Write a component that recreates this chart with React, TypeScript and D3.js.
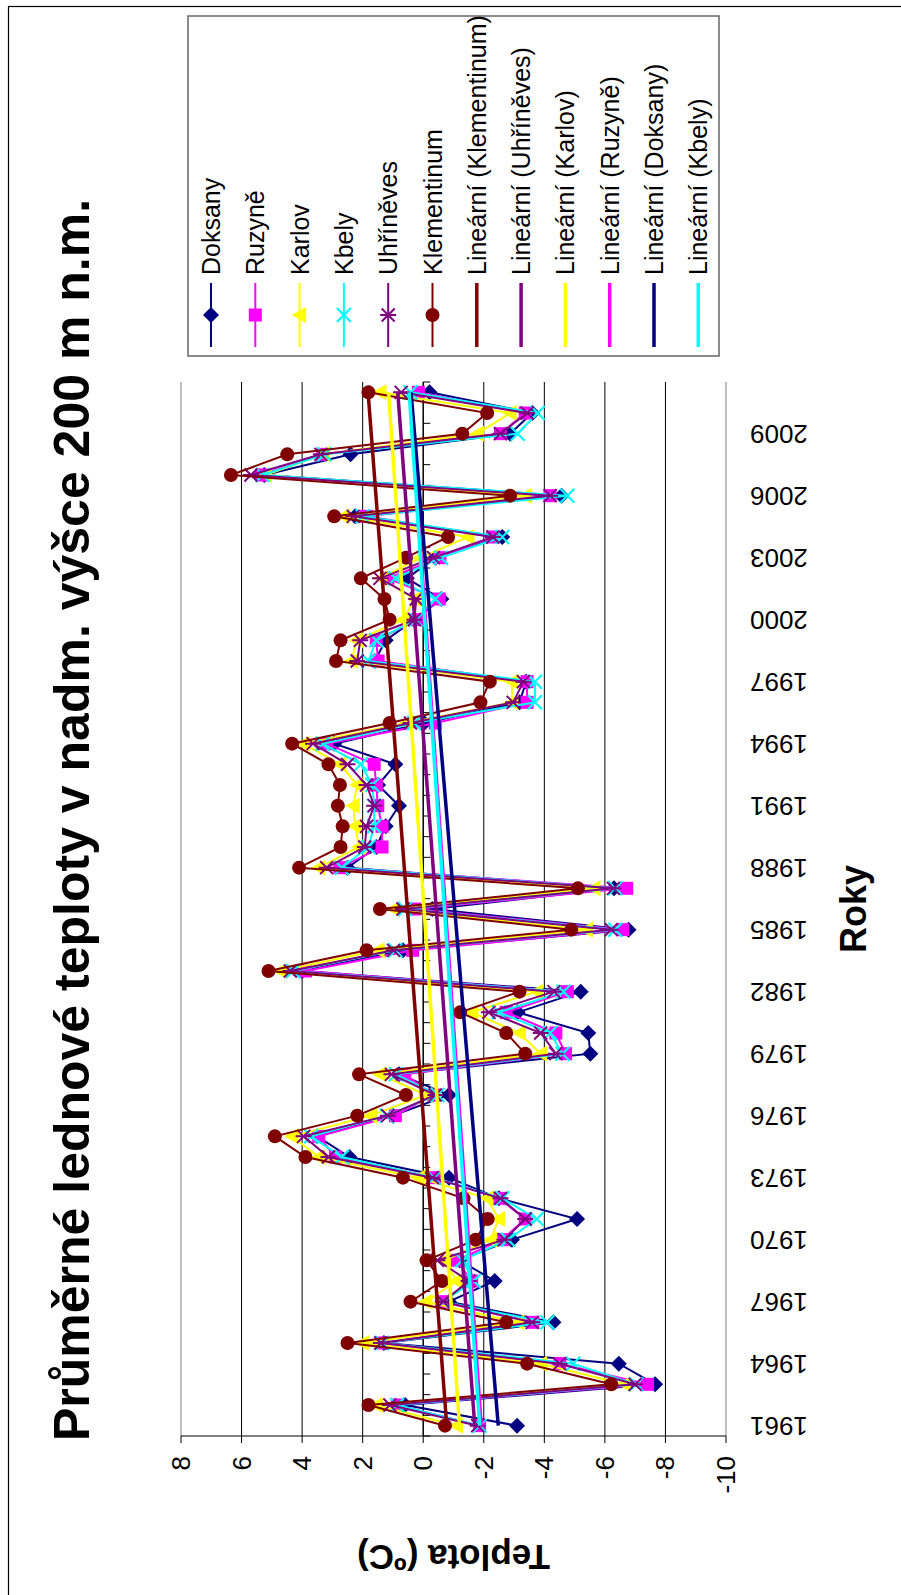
import React from "react";
import * as d3 from "d3";

// January mean temperatures (°C) at stations around 200 m a.s.l., 1961–2011
const years = [
  1961, 1962, 1963, 1964, 1965, 1966, 1967, 1968, 1969, 1970,
  1971, 1972, 1973, 1974, 1975, 1976, 1977, 1978, 1979, 1980,
  1981, 1982, 1983, 1984, 1985, 1986, 1987, 1988, 1989, 1990,
  1991, 1992, 1993, 1994, 1995, 1996, 1997, 1998, 1999, 2000,
  2001, 2002, 2003, 2004, 2005, 2006, 2007, 2008, 2009, 2010, 2011,
];

const doksany = [
  -3.1, 0.6, -7.66, -6.46, 1.3, -4.3, -0.85, -2.36, -1.2, -2.93,
  -5.08, -2.5, -0.85, 2.44, 3.5, 1.0, -0.85, 0.8, -5.52, -5.45,
  -3.12, -5.2, 4.0, 0.67, -6.78, -0.3, -6.3, 2.5, 1.55, 1.24,
  0.8, 1.49, 0.92, 2.94, -0.03, -3.18, -3.4, 1.6, 1.24, 0.29,
  -0.6, 0.54, -0.4, -2.61, 2.25, -4.57, 5.25, 2.4, -2.87, -3.6, -0.21,
];

const ruzyne = [
  -1.86, 0.86, -7.41, -4.51, 1.36, -3.62, -0.6, -1.6, -1.1, -2.6,
  -3.37, -2.5, -0.4, 2.9, 3.45, 0.92, -0.34, 0.61, -4.7, -4.38,
  -2.74, -4.76, 3.89, 0.35, -6.59, 0.29, -6.72, 2.75, 1.36, 1.36,
  1.5, 1.55, 1.62, 3.19, -0.4, -3.43, -3.43, 1.49, 1.55, 0.2,
  -0.53, 1.17, -0.55, -2.3, 1.87, -4.19, 5.34, 3.32, -2.55, -3.37, 0.16,
];

const karlov = [
  -1.1, 1.55, -6.65, -3.88, 2.0, -3.12, -0.09, -1.1, -0.7, -2.23,
  -2.49, -2.11, 0.16, 3.45, 4.33, 1.74, -0.09, 1.43, -3.88, -3.18,
  -1.6, -3.75, 4.71, 1.49, -5.39, 0.98, -5.64, 3.45, 2.12, 2.25,
  2.31, 2.18, 2.75, 3.95, 0.54, -2.93, -2.93, 2.37, 2.2, 0.67,
  0.29, 1.4, 0.1, -1.48, 2.63, -3.37, 5.21, 3.3, -1.79, -2.87, 1.43,
];

const kbely = [
  -1.86, 0.86, -7.03, -4.95, 1.36, -4.1, -0.66, -1.67, -1.29, -2.8,
  -3.75, -2.61, -0.35, 2.69, 3.7, 1.2, -0.47, 0.9, -4.6, -4.19,
  -2.5, -4.63, 4.3, 0.92, -6.34, 0.6, -6.34, 2.69, 1.81, 1.62,
  1.62, 1.68, 2.06, 3.32, 0.3, -3.69, -3.69, 1.81, 1.55, 0.25,
  -0.4, 0.92, -0.59, -2.61, 2.0, -4.76, 5.3, 3.26, -3.12, -3.78, 0.42,
];

const uhrineves = [
  -1.8, 1.1, -7.0, -4.5, 1.4, -3.6, -0.66, -1.5, -0.47, -2.68,
  -3.37, -2.55, -0.3, 3.13, 3.95, 1.17, -0.4, 1.05, -4.38, -3.88,
  -2.17, -4.32, 4.39, 0.98, -6.21, 0.67, -6.28, 3.19, 1.93, 1.87,
  1.62, 1.87, 2.5, 3.64, 0.42, -2.97, -3.31, 2.18, 2.08, 0.29,
  0.23, 1.43, -0.34, -2.3, 2.31, -4.19, 5.69, 3.38, -2.55, -3.43, 0.73,
];

const klementinum = [
  -0.72, 1.81, -6.21, -3.43, 2.5, -2.74, 0.42, -0.62, -0.11, -1.73,
  -2.13, -1.33, 0.67, 3.89, 4.9, 2.18, 0.57, 2.12, -3.37, -2.74,
  -1.22, -3.18, 5.11, 1.87, -4.89, 1.43, -5.11, 4.1, 2.73, 2.66,
  2.82, 2.75, 3.13, 4.33, 1.11, -1.89, -2.2, 2.88, 2.73, 1.11,
  1.28, 2.06, 0.57, -0.82, 2.94, -2.87, 6.35, 4.49, -1.29, -2.11, 1.81,
];

const valueTicks = [-10, -8, -6, -4, -2, 0, 2, 4, 6, 8];

type MarkerKind = "diamond" | "square" | "triangle" | "cross" | "star" | "circle";

interface Series {
  name: string;
  values: number[];
  color: string;
  marker: MarkerKind;
}

const series: Series[] = [
  { name: "Doksany", values: doksany, color: "#000080", marker: "diamond" },
  { name: "Ruzyně", values: ruzyne, color: "#FF00FF", marker: "square" },
  { name: "Karlov", values: karlov, color: "#FFFF00", marker: "triangle" },
  { name: "Kbely", values: kbely, color: "#00FFFF", marker: "cross" },
  { name: "Uhříněves", values: uhrineves, color: "#800080", marker: "star" },
  { name: "Klementinum", values: klementinum, color: "#800000", marker: "circle" },
];

// Linear trend lines, listed in legend order
const trendOrder = ["Klementinum", "Uhříněves", "Karlov", "Ruzyně", "Doksany", "Kbely"];

// The chart is laid out in its own (u, v) frame and turned a quarter turn
// counter-clockwise onto the page: page x = v, page y = PAGE_H - u.
const PAGE_W = 901;
const PAGE_H = 1595;
const U_LEFT = 159;
const U_RIGHT = 1213;
const V_TOP = 181;
const V_BOTTOM = 726;

const FONT = "'Liberation Sans', Arial, Helvetica, sans-serif";

function Marker({ kind, x, y, color }: { kind: MarkerKind; x: number; y: number; color: string }) {
  switch (kind) {
    case "diamond":
      return <path d={`M${x},${y - 8}L${x + 8},${y}L${x},${y + 8}L${x - 8},${y}Z`} fill={color} />;
    case "square":
      return <rect x={x - 6.5} y={y - 6.5} width={13} height={13} fill={color} />;
    case "triangle":
      return <path d={`M${x},${y - 8}L${x + 8},${y + 6.5}L${x - 8},${y + 6.5}Z`} fill={color} />;
    case "cross":
      return (
        <path
          d={`M${x - 7},${y - 7}L${x + 7},${y + 7}M${x - 7},${y + 7}L${x + 7},${y - 7}`}
          stroke={color}
          strokeWidth={2.2}
          fill="none"
        />
      );
    case "star":
      return (
        <path
          d={`M${x - 6.5},${y - 6.5}L${x + 6.5},${y + 6.5}M${x - 6.5},${y + 6.5}L${x + 6.5},${y - 6.5}M${x},${y - 8}L${x},${y + 8}`}
          stroke={color}
          strokeWidth={2}
          fill="none"
        />
      );
    case "circle":
    default:
      return <circle cx={x} cy={y} r={7} fill={color} />;
  }
}

function linearFit(values: number[]) {
  const xs = values.map((_, i) => i + 1);
  const mx = d3.mean(xs) as number;
  const my = d3.mean(values) as number;
  let sxy = 0;
  let sxx = 0;
  xs.forEach((x, i) => {
    sxy += (x - mx) * (values[i] - my);
    sxx += (x - mx) * (x - mx);
  });
  const slope = sxy / sxx;
  const intercept = my - slope * mx;
  return (x: number) => intercept + slope * x;
}

export default function App() {
  const x = d3
    .scalePoint<number>()
    .domain(years)
    .range([U_LEFT, U_RIGHT])
    .padding(0.5);
  const y = d3.scaleLinear().domain([-10, 8]).range([V_BOTTOM, V_TOP]);
  const band = (U_RIGHT - U_LEFT) / years.length;

  const line = d3
    .line<number>()
    .x((_, i) => x(years[i]) as number)
    .y((d) => y(d));

  const y0 = y(0);

  const legendItems = [
    ...series.map((s) => ({ label: s.name, color: s.color, marker: s.marker as MarkerKind | null })),
    ...trendOrder.map((n) => {
      const s = series.find((q) => q.name === n)!;
      return { label: `Lineární (${n})`, color: s.color, marker: null as MarkerKind | null };
    }),
  ];

  const legendU0 = 1239;
  const legendU1 = 1579;
  const legendV0 = 188;
  const legendV1 = 719;
  const legendStep = 44.3;
  const legendFirst = 211;

  return (
    <svg
      width={PAGE_W}
      height={PAGE_H}
      style={{ position: "absolute", left: 0, top: 0, background: "#fff" }}
      fontFamily={FONT}
    >
      <rect x={0} y={0} width={PAGE_W} height={PAGE_H} fill="#fff" />
      {/* outer chart frame */}
      <rect x={8.5} y={6.5} width={1200} height={2000} fill="none" stroke="#000" strokeWidth={1.2} />

      <g transform={`translate(0,${PAGE_H}) rotate(-90)`}>
        {/* gridlines */}
        {valueTicks.map((t) => (
          <line
            key={`g${t}`}
            x1={U_LEFT}
            x2={U_RIGHT}
            y1={y(t)}
            y2={y(t)}
            stroke={t === -10 || t === 8 ? "#808080" : "#000"}
            strokeWidth={1}
          />
        ))}

        {/* value axis */}
        <line x1={U_LEFT} x2={U_LEFT} y1={V_TOP} y2={V_BOTTOM} stroke="#000" strokeWidth={1.2} />
        {valueTicks.map((t) => (
          <g key={`t${t}`}>
            <line x1={U_LEFT - 7} x2={U_LEFT} y1={y(t)} y2={y(t)} stroke="#000" strokeWidth={1} />
            <text
              x={U_LEFT - 20}
              y={y(t)}
              textAnchor="end"
              dominantBaseline="central"
              fontSize={26}
              fill="#000"
            >
              {t}
            </text>
          </g>
        ))}

        {/* category axis crossing at 0 °C */}
        <line x1={U_LEFT} x2={U_RIGHT} y1={y0} y2={y0} stroke="#000" strokeWidth={1.2} />
        {d3.range(years.length + 1).map((k) => (
          <line
            key={`c${k}`}
            x1={U_LEFT + k * band}
            x2={U_LEFT + k * band}
            y1={y0}
            y2={y0 + 7}
            stroke="#000"
            strokeWidth={1}
          />
        ))}
        {years
          .filter((_, i) => i % 3 === 0)
          .map((yr) => {
            const u = x(yr) as number;
            return (
              <text
                key={`y${yr}`}
                transform={`translate(${u},${750}) rotate(-90)`}
                textAnchor="end"
                dominantBaseline="central"
                fontSize={26}
                fill="#000"
              >
                {yr}
              </text>
            );
          })}

        {/* station series */}
        {series.map((s) => (
          <g key={s.name}>
            <path d={line(s.values) || ""} fill="none" stroke={s.color} strokeWidth={2} />
            {s.values.map((v, i) => (
              <Marker key={i} kind={s.marker} x={x(years[i]) as number} y={y(v)} color={s.color} />
            ))}
          </g>
        ))}

        {/* linear trends */}
        {trendOrder.map((n) => {
          const s = series.find((q) => q.name === n)!;
          const f = linearFit(s.values);
          const first = 1;
          const last = s.values.length;
          return (
            <line
              key={`tr${n}`}
              x1={x(years[first - 1]) as number}
              y1={y(f(first))}
              x2={x(years[last - 1]) as number}
              y2={y(f(last))}
              stroke={s.color}
              strokeWidth={3.5}
            />
          );
        })}

        {/* title */}
        <text x={775} y={89} textAnchor="middle" fontSize={50} fontWeight="bold" fill="#000">
          Průměrné lednové teploty v nadm. výšce 200 m n.m.
        </text>

        {/* axis titles */}
        <text x={(U_LEFT + U_RIGHT) / 2} y={866} textAnchor="middle" fontSize={36} fontWeight="bold" fill="#000">
          Roky
        </text>
        <text
          transform={`translate(50,${(V_TOP + V_BOTTOM) / 2}) rotate(-90)`}
          textAnchor="middle"
          fontSize={35}
          fontWeight="bold"
          fill="#000"
        >
          Teplota (ºC)
        </text>

        {/* legend */}
        <rect
          x={legendU0}
          y={legendV0}
          width={legendU1 - legendU0}
          height={legendV1 - legendV0}
          fill="#fff"
          stroke="#666"
          strokeWidth={1.5}
        />
        {legendItems.map((it, i) => {
          const v = legendFirst + i * legendStep;
          return (
            <g key={`l${i}`}>
              <line
                x1={1248}
                x2={1312}
                y1={v}
                y2={v}
                stroke={it.color}
                strokeWidth={it.marker ? 2 : 3.5}
              />
              {it.marker && <Marker kind={it.marker} x={1280} y={v} color={it.color} />}
              <text x={1320} y={v} dominantBaseline="central" fontSize={25} fill="#000">
                {it.label}
              </text>
            </g>
          );
        })}
      </g>
    </svg>
  );
}
